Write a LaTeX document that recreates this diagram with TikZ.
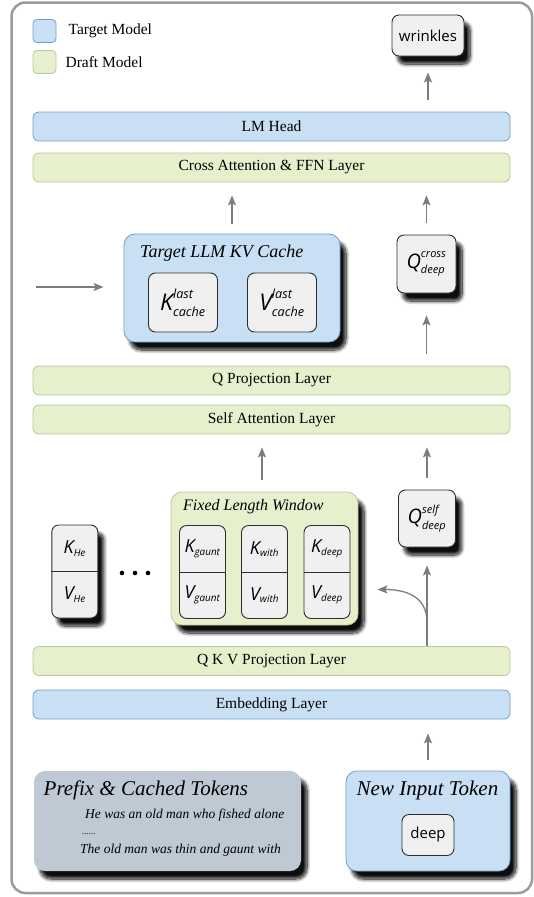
\documentclass[tikz,border=0pt]{standalone}
\usepackage{amsmath}
\usepackage{fontspec}
\setmainfont{Liberation Serif}
\setsansfont{Open Sans}
\usepackage{xcolor}
\usetikzlibrary{arrows.meta,positioning,calc,shadows.blur}
\definecolor{tgtblue}{RGB}{201,223,243}
\definecolor{tgtedge}{RGB}{110,158,212}
\definecolor{drfgreen}{RGB}{231,240,205}
\definecolor{drfedge}{RGB}{188,198,158}
\definecolor{prefgray}{RGB}{190,201,212}
\definecolor{tokfill}{RGB}{240,240,240}
\definecolor{tokedge}{RGB}{45,45,45}
\definecolor{arrowgray}{RGB}{125,125,125}
\definecolor{framegray}{RGB}{155,155,155}
\renewcommand{\defaultscriptratio}{.55}
\tikzset{
  tgtlayer/.style={rectangle, rounded corners=6pt, draw=tgtedge, fill=tgtblue, line width=0.8pt, minimum width=477pt, minimum height=29pt, font=\fontsize{15.5}{18}\selectfont},
  drflayer/.style={tgtlayer, draw=drfedge, fill=drfgreen},
  shadowed/.style={blur shadow={shadow xshift=6pt, shadow yshift=-8pt, shadow blur radius=3.5pt, shadow blur steps=10, shadow opacity=95}},
  tokbox/.style={rectangle, rounded corners=7pt, draw=tokedge, fill=tokfill, line width=0.9pt, inner sep=0pt, font=\sffamily\fontsize{15}{18}\selectfont},
  kvpair/.style={tokbox, minimum width=46pt, minimum height=93pt},
  groupbox/.style={rectangle, rounded corners=11pt, line width=0.8pt, inner sep=0pt},
  legbox/.style={rectangle, rounded corners=4pt, line width=0.8pt, minimum size=23pt, inner sep=0pt},
  legtext/.style={font=\fontsize{15.5}{18}\selectfont, inner sep=0pt},
  symlab/.style={font=\sffamily\itshape\fontsize{18}{18}\selectfont, inner sep=0pt},
  titlelab/.style={font=\itshape\fontsize{18}{20}\selectfont, inner sep=0pt, anchor=west},
  sentence/.style={font=\itshape\fontsize{13.5}{16}\selectfont, inner sep=0pt, anchor=west},
  dot/.style={circle, fill=black, minimum size=4.6pt, inner sep=0pt},
  arrow/.style={-{Stealth[length=10pt,width=8pt,inset=2pt]}, draw=arrowgray, line width=1.3pt, shorten <=12pt, shorten >=13pt},
}

\begin{document}
\begin{tikzpicture}[x=1pt, y=-1pt]
  \useasboundingbox (0,0) rectangle (533,897);
  \draw[framegray, line width=2.5pt, rounded corners=14pt] (11.5,2.5) rectangle (532,893);

  % legend
  \node[legbox, draw=tgtedge, fill=tgtblue] (legtgt) at (44.5,31) {};
  \node[legtext, right=12pt of legtgt] (legtgttxt) {Target Model};
  \node[legbox, draw=drfedge, fill=drfgreen] (legdrf) at (44.5,62) {};
  \node[legtext, right=9pt of legdrf] (legdrftxt) {Draft Model};

  % output side
  \node[tokbox, shadowed, minimum width=72pt, minimum height=41pt] (out) at (428,35.5) {wrinkles};
  \node[tgtlayer] (lmhead) at (271.5,126.5) {LM Head};
  \node[drflayer] (crossffn) at (271.5,167.5) {Cross Attention \& FFN Layer};

  \draw[arrow, shorten >=16pt] (lmhead.north -| out) -- (out.south);

  % target cache
  \node[groupbox, shadowed, draw=tgtedge, fill=tgtblue, minimum width=216pt, minimum height=108pt] (kvcache) at (232,288) {};
  \node[titlelab] (kvtitle) at (140,253) {Target LLM KV Cache};
  \node[tokbox, minimum width=69pt, minimum height=59pt] (kcache) at (183,302.5) {};
  \node[symlab, font=\sffamily\itshape\fontsize{23}{23}\selectfont] (kcachelab) at (kcache) {$\text{K}^{\text{last}}_{\text{cache}}$};
  \node[tokbox, minimum width=69pt, minimum height=59pt] (vcache) at (282,302.5) {};
  \node[symlab, font=\sffamily\itshape\fontsize{23}{23}\selectfont] (vcachelab) at (vcache) {$\text{V}^{\text{last}}_{\text{cache}}$};

  \node[tokbox, shadowed, minimum width=59pt, minimum height=58pt] (qcross) at (426.5,264) {};
  \node[symlab, font=\sffamily\itshape\fontsize{20}{20}\selectfont] (qcrosslab) at (qcross) {$\text{Q}^{\text{cross}}_{\text{deep}}$};

  \coordinate (kvsrc) at (36,287);
  \draw[arrow, shorten <=0pt, shorten >=20pt] (kvsrc) -- (kvsrc -| kvcache.west);
  \draw[arrow, shorten <=10pt] (kvcache.north) -- (crossffn.south -| kvcache.north);
  \draw[arrow] (qcross.north) -- (crossffn.south -| qcross);

  \node[drflayer] (qproj) at (271.5,380.5) {Q Projection Layer};
  \node[drflayer] (selfattn) at (271.5,419.5) {Self Attention Layer};

  \draw[arrow, shorten >=22pt] (qproj.north -| qcross) -- (qcross.south);

  % draft window
  \node[groupbox, shadowed, draw=drfedge, fill=drfgreen, minimum width=187pt, minimum height=133pt] (fixwin) at (264.5,558.5) {};
  \node[titlelab, font=\itshape\fontsize{16}{18}\selectfont] (fixtitle) at (183,507) {Fixed Length Window};

  \node[kvpair, shadowed] (kvhe) at (74.8,571.5) {};
  \draw[tokedge, line width=0.9pt] (kvhe.west) -- (kvhe.east);
  \node[symlab] (khe) at ($(kvhe)+(0,-23)$) {$\text{K}_{\text{He}}$};
  \node[symlab] (vhe) at ($(kvhe)+(0,23)$) {$\text{V}_{\text{He}}$};

  \node[dot] (dot1) at (122,573) {};
  \node[dot] (dot2) at (135,573) {};
  \node[dot] (dot3) at (148,573) {};

  \node[kvpair] (kvgaunt) at (202.5,572) {};
  \draw[tokedge, line width=0.9pt] (kvgaunt.west) -- (kvgaunt.east);
  \node[symlab] (kgaunt) at ($(kvgaunt)+(0,-23)$) {$\text{K}_{\text{gaunt}}$};
  \node[symlab] (vgaunt) at ($(kvgaunt)+(0,23)$) {$\text{V}_{\text{gaunt}}$};

  \node[kvpair] (kvwith) at (264.5,572) {};
  \draw[tokedge, line width=0.9pt] (kvwith.west) -- (kvwith.east);
  \node[symlab] (kwith) at ($(kvwith)+(0,-23)$) {$\text{K}_{\text{with}}$};
  \node[symlab] (vwith) at ($(kvwith)+(0,23)$) {$\text{V}_{\text{with}}$};

  \node[kvpair] (kvdeep) at (327,572) {};
  \draw[tokedge, line width=0.9pt] (kvdeep.west) -- (kvdeep.east);
  \node[symlab] (kdeep) at ($(kvdeep)+(0,-23)$) {$\text{K}_{\text{deep}}$};
  \node[symlab] (vdeep) at ($(kvdeep)+(0,23)$) {$\text{V}_{\text{deep}}$};

  \node[tokbox, shadowed, minimum width=57pt, minimum height=57pt] (qself) at (427,518.5) {};
  \node[symlab, font=\sffamily\itshape\fontsize{20}{20}\selectfont] (qselflab) at (qself) {$\text{Q}^{\text{self}}_{\text{deep}}$};

  \draw[arrow] (fixwin.north -| 262,0) -- (selfattn.south -| 262,0);
  \draw[arrow] (qself.north) -- (selfattn.south -| qself);

  \node[drflayer] (qkvproj) at (271.5,661) {Q K V Projection Layer};
  \node[tgtlayer] (embed) at (271.5,704.5) {Embedding Layer};

  \coordinate (wintip) at ($(fixwin.east)+(19,31)$);
  \draw[arrow, shorten <=0pt, shorten >=18pt] (qkvproj.north -| qself) -- (qself.south);
  \draw[arrow, shorten <=0pt, shorten >=0pt] (qkvproj.north -| qself) -- ++(0,-24) .. controls ++(0,-26) and ($(wintip)+(28,0)$) .. (wintip);

  % inputs
  \node[groupbox, shadowed, fill=prefgray, minimum width=267pt, minimum height=100pt] (prefix) at (167.5,821) {};
  \node[titlelab, font=\itshape\fontsize{21}{23}\selectfont] (preftitle) at (43.5,790) {Prefix \& Cached Tokens};
  \node[sentence] (sent1) at (85,815) {He was an old man who fished alone};
  \node[sentence, font=\itshape\fontsize{9}{10}\selectfont] (sentdots) at (82,834) {......};
  \node[sentence] (sent2) at (80,850) {The old man was thin and gaunt with};

  \node[groupbox, shadowed, draw=tgtedge, fill=tgtblue, minimum width=164pt, minimum height=100pt] (newin) at (428,821) {};
  \node[titlelab, font=\itshape\fontsize{21}{23}\selectfont, anchor=center] (newtitle) at (427.5,790) {New Input Token};
  \node[tokbox, minimum width=52pt, minimum height=41pt] (newtok) at (428,835) {deep};

  \draw[arrow, shorten <=11pt, shorten >=14pt] (newin.north) -- (embed.south -| newin);
\end{tikzpicture}
\end{document}
